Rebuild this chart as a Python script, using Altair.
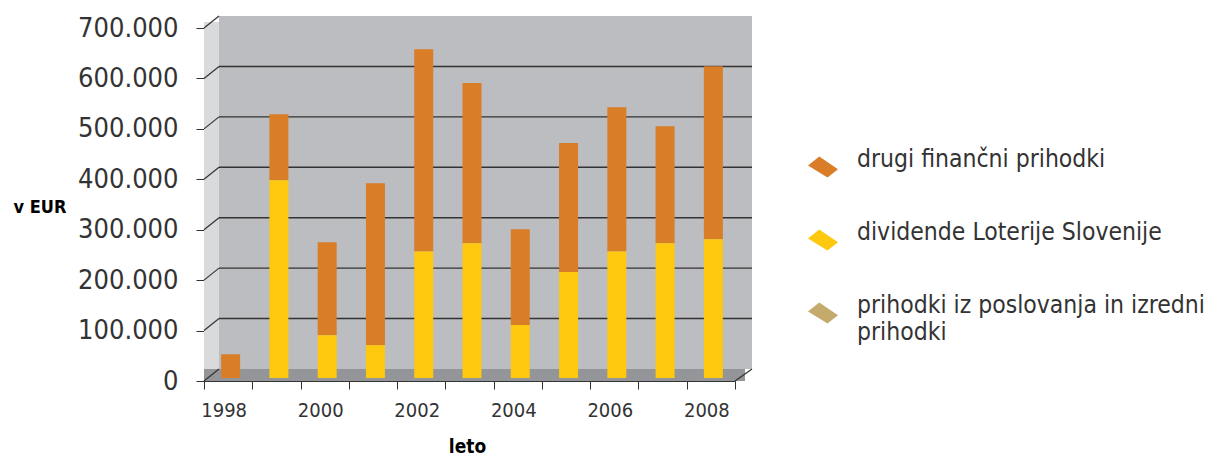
import altair as alt
import pandas as pd

# ---- data ----
years = [1998, 1999, 2000, 2001, 2002, 2003, 2004, 2005, 2006, 2007, 2008]
drugi = [47000, 131000, 184000, 321000, 401000, 318000, 190000, 256000, 286000, 232000, 343000]
dividende = [0, 392000, 85000, 65000, 251000, 267000, 105000, 210000, 251000, 267000, 275000]
poslovanje = [0, 0, 0, 0, 0, 0, 0, 0, 0, 0, 0]

series = ["drugi finančni prihodki", "dividende Loterije Slovenije",
          "prihodki iz poslovanja in izredni prihodki"]
colors = ["#d97d27", "#fdc80d", "#c4aa6b"]
stack_rank = [1, 0, 2]
y_ticks = [0, 100000, 200000, 300000, 400000, 500000, 600000, 700000]

FONT = "Liberation Sans Narrow, DejaVu Sans Condensed, Arial Narrow, sans-serif"

rows = []
for name, vals, rk in zip(series, [drugi, dividende, poslovanje], stack_rank):
    for yr, v in zip(years, vals):
        rows.append({"leto": yr, "serija": name, "vrednost": v, "red": rk})
df = pd.DataFrame(rows)
grid_df = pd.DataFrame({"vrednost": y_ticks})
one = pd.DataFrame({"a": [0]})

W, H = 531, 353
DX, DY = 15, 12  # 3D depth offset of back wall

yscale = alt.Scale(domain=[0, 700000], nice=False)
y_axis = alt.Axis(title="v EUR", values=y_ticks, grid=False,
                  labelExpr="replace(format(datum.value, ','), ',', '.')",
                  labelFont=FONT, labelFontSize=27, labelColor="#333333",
                  labelPadding=18, tickSize=8, tickColor="#333333",
                  domainColor="#333333",
                  titleFont=FONT, titleFontWeight="bold", titleFontSize=18,
                  titleColor="#000000", titleAngle=0, titleX=-191, titleY=179,
                  titleAlign="left", titleBaseline="middle", titleAnchor="start")

back_wall = alt.Chart(one).mark_rect(color="#bcbdc0").encode(
    x=alt.value(DX), x2=alt.value(W + 17), y=alt.value(-DY), y2=alt.value(H - DY))
left_wall = alt.Chart(one).mark_rect(color="#d9dadc").encode(
    x=alt.value(0), x2=alt.value(DX), y=alt.value(-DY + 6), y2=alt.value(H))
floor = alt.Chart(one).mark_rect(color="#939598").encode(
    x=alt.value(0), x2=alt.value(W + 10), y=alt.value(H - DY), y2=alt.value(H))
floor_edge = alt.Chart(one).mark_rule(color="#333333", strokeWidth=1.2).encode(
    x=alt.value(W), x2=alt.value(W + 17), y=alt.value(H), y2=alt.value(H - DY))

grid_back = alt.Chart(grid_df).transform_filter(
    "datum.vrednost > 0 && datum.vrednost < 700000"
).mark_rule(color="#333333", strokeWidth=1.4, yOffset=-DY).encode(
    x=alt.value(DX), x2=alt.value(W + 17),
    y=alt.Y("vrednost:Q", scale=yscale, axis=y_axis))
connectors = alt.Chart(grid_df).mark_rule(color="#333333", strokeWidth=1.2, y2Offset=-DY).encode(
    x=alt.value(0), x2=alt.value(DX),
    y=alt.Y("vrednost:Q", scale=yscale, axis=y_axis),
    y2=alt.Y2("vrednost"))

legend_path = "M -1 -0.1 L -0.25 -0.7 L 1 0.15 L 0.3 0.7 Z"

bars = alt.Chart(df).mark_bar(size=19, xOffset=2.5, yOffset=-3, y2Offset=-3).encode(
    x=alt.X("leto:O", scale=alt.Scale(paddingInner=0, paddingOuter=0),
            axis=alt.Axis(title="leto", labelAngle=0, tickBand="extent",
                          labelExpr="datum.value % 2 == 0 ? datum.label : ''",
                          labelFont=FONT, labelFontSize=20, labelColor="#333333",
                          labelPadding=11, labelOffset=-4.5, labelBaseline="top",
                          domainColor="#333333", tickColor="#333333", tickSize=8,
                          titleFont=FONT, titleFontWeight="bold", titleFontSize=19,
                          titleColor="#000000", titleX=263, titleY=71,
                          titleBaseline="alphabetic", titleAnchor="start", titleAlign="center")),
    y=alt.Y("vrednost:Q", stack="zero", scale=yscale, axis=y_axis),
    color=alt.Color("serija:N", scale=alt.Scale(domain=series, range=colors),
                    legend=alt.Legend(orient="none", legendX=604, legendY=124, title=None,
                                      symbolType=legend_path, symbolSize=900,
                                      symbolStrokeWidth=0, symbolOpacity=1,
                                      labelFont=FONT, labelFontSize=24.5, labelColor="#333333",
                                      labelLimit=600, labelOffset=19, rowPadding=42,
                                      labelBaseline="alphabetic",
                                      labelExpr="datum.label == 'prihodki iz poslovanja in izredni prihodki' ? ['prihodki iz poslovanja in izredni', 'prihodki'] : datum.label")),
    order=alt.Order("red:Q"),
)

chart = alt.layer(back_wall, left_wall, floor, grid_back, connectors, floor_edge, bars).properties(
    width=W, height=H,
    autosize=alt.AutoSizeParams(type="none"),
    padding={"left": 196, "top": 20, "right": 479, "bottom": 72},
    background="white",
).configure_view(stroke=None)

chart.save("out.html", embed_options={"renderer": "svg", "actions": False})
